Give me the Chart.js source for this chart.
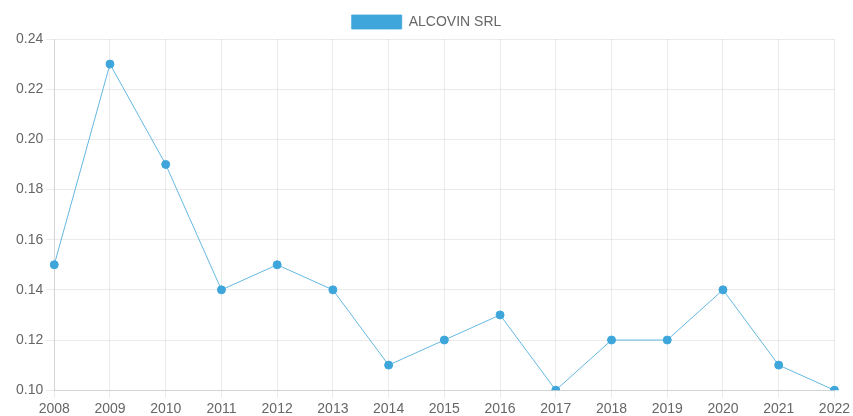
<!DOCTYPE html>
<html>
<head>
<meta charset="utf-8">
<script src="https://cdn.jsdelivr.net/npm/chart.js@4/dist/chart.umd.min.js"></script>
<style>
  html, body { margin: 0; padding: 0; background: #fff; overflow: hidden; }
  #wrap { width: 853px; height: 416px; margin-top: 5px; }
</style>
</head>
<body>
<div id="wrap"><canvas id="c"></canvas></div>
<script>
const years = ['2008','2009','2010','2011','2012','2013','2014','2015','2016','2017','2018','2019','2020','2021','2022'];
const seriesName = 'ALCOVIN SRL';
const values = [0.15, 0.23, 0.19, 0.14, 0.15, 0.14, 0.11, 0.12, 0.13, 0.10, 0.12, 0.12, 0.14, 0.11, 0.10];

const blue = '#3ea6da';
Chart.defaults.font.size = 14;
Chart.defaults.color = '#666';

new Chart(document.getElementById('c'), {
  type: 'line',
  data: {
    labels: years,
    datasets: [{
      label: seriesName,
      data: values,
      borderColor: 'rgba(62,166,218,0.8)',
      backgroundColor: blue,
      pointBackgroundColor: blue,
      pointBorderColor: blue,
      borderWidth: 1,
      pointRadius: 4,
      tension: 0
    }]
  },
  options: {
    responsive: true,
    maintainAspectRatio: false,
    animation: false,
    plugins: {
      legend: {
        labels: { boxWidth: 50, boxHeight: 14 }
      },
      tooltip: { enabled: false }
    },
    scales: {
      x: {
        grid: { color: 'rgba(0,0,0,0.08)' }
      },
      y: {
        min: 0.10,
        max: 0.24,
        afterFit: s => { s.width += 13; },
        ticks: {
          stepSize: 0.02,
          callback: v => v.toFixed(2)
        },
        grid: { color: 'rgba(0,0,0,0.08)' }
      }
    }
  }
});
</script>
</body>
</html>
